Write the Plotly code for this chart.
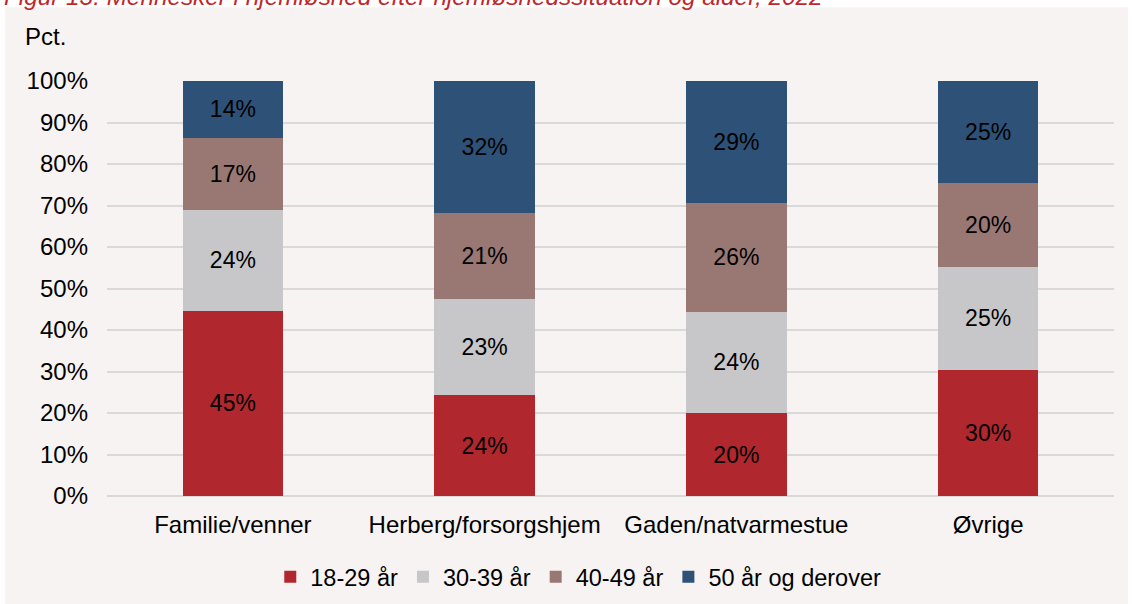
import plotly.graph_objects as go

# Share of people in homelessness by situation and age, 2022 (pct.)
categories = ["Familie/venner", "Herberg/forsorgshjem", "Gaden/natvarmestue", "Øvrige"]
age_groups = ["18-29 år", "30-39 år", "40-49 år", "50 år og derover"]

share_18_29 = [44.7, 24.3, 20.0, 30.3]
share_30_39 = [24.3, 23.1, 24.4, 25.0]
share_40_49 = [17.3, 20.9, 26.2, 20.2]
share_50_plus = [13.7, 31.7, 29.4, 24.6]

y_ticks = list(range(0, 101, 10))
y_tick_labels = [f"{t}%" for t in y_ticks]

TITLE = "Figur 13: Mennesker i hjemløshed efter hjemløshedssituation og alder, 2022"

COLORS = ["#B0272E", "#C7C7C9", "#997874", "#2E5177"]
BG = "#F7F3F2"
FONT = "Liberation Sans, Arial, sans-serif"
FS = 24

fig = go.Figure()
for name, vals, col in zip(age_groups,
                           [share_18_29, share_30_39, share_40_49, share_50_plus],
                           COLORS):
    fig.add_trace(go.Bar(
        x=categories, y=vals, name=name,
        marker=dict(color=col, line=dict(width=0)),
        texttemplate="%{y:.0f}%", textposition="inside",
        insidetextanchor="middle",
        textfont=dict(color="#000000", size=FS - 1, family=FONT),
        hoverinfo="skip",
    ))

fig.update_layout(
    barmode="stack",
    bargap=0.6,
    width=1132, height=604,
    margin=dict(l=107, r=18, t=81, b=108),
    paper_bgcolor="#FFFFFF",
    plot_bgcolor="rgba(0,0,0,0)",
    font=dict(family=FONT, size=FS, color="#000000"),
    uniformtext=dict(minsize=8, mode="show"),
    showlegend=True,
    legend=dict(
        orientation="h", x=0.468, xanchor="center",
        yref="container", y=(604 - 577) / 604, yanchor="middle",
        font=dict(size=FS - 0.5), bgcolor="rgba(0,0,0,0)", traceorder="normal",
        itemwidth=30,
    ),
    xaxis=dict(
        showgrid=False, showline=False, ticks="", tickfont=dict(size=FS),
        ticklabelstandoff=12,
    ),
    yaxis=dict(
        range=[0, 100], tickvals=y_ticks, ticktext=y_tick_labels,
        showgrid=True, gridcolor="#D9D9D9", gridwidth=1.5,
        zeroline=True, zerolinecolor="#D9D9D9", zerolinewidth=1.5,
        showline=False, ticks="", tickfont=dict(size=FS),
        ticklabelstandoff=18,
    ),
    shapes=[dict(
        type="rect", xref="paper", yref="paper", layer="below",
        x0=-0.1013, x1=1.0139, y0=-0.4, y1=1.178,
        fillcolor=BG, line=dict(width=0),
    )],
    annotations=[
        dict(text="Pct.", xref="paper", yref="paper", x=-0.083, y=1.0,
             xanchor="left", yanchor="middle", yshift=45, showarrow=False,
             font=dict(size=FS)),
        dict(text=f"<i>{TITLE}</i>", xref="paper", yref="paper", x=-0.104, y=1.0,
             xanchor="left", yanchor="middle", yshift=85, showarrow=False,
             font=dict(size=FS + 0.3, color="#C0272D")),
    ],
)

# drop the browser's default page margin so the figure sits at the window origin
fig.write_html(
    "out.html",
    config={"displayModeBar": False},
    post_script="document.body.style.margin = '0';",
)
